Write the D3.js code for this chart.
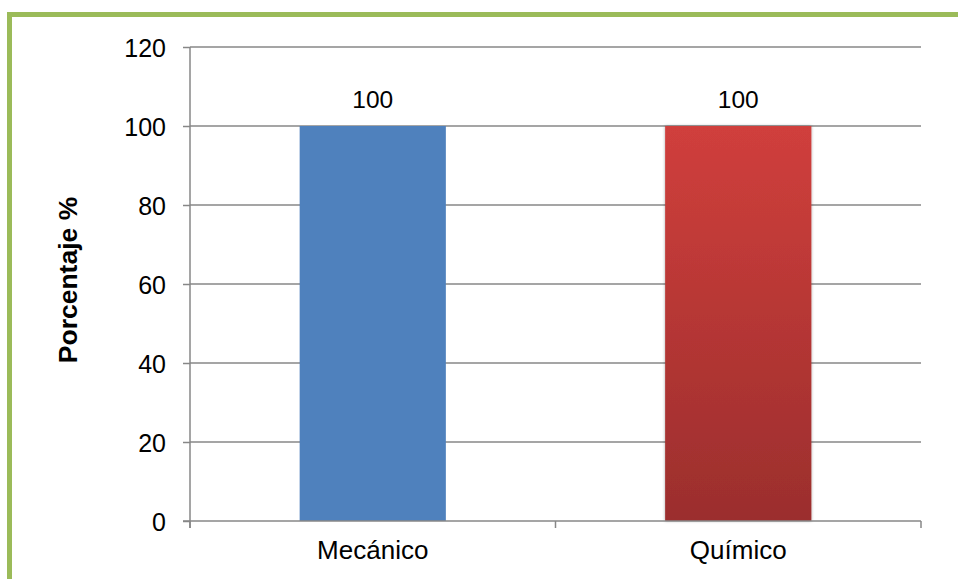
<!DOCTYPE html>
<html>
<head>
<meta charset="utf-8">
<script src="https://cdn.jsdelivr.net/npm/d3@7"></script>
<style>
  html, body { margin: 0; padding: 0; background: #fff; }
  svg { display: block; font-family: "Liberation Sans", Arial, sans-serif; }
</style>
</head>
<body>
<svg id="chart" width="958" height="579"></svg>
<script>
// Porcentaje por tipo de tratamiento
const categories = ["Mecánico", "Químico"];
const values = [100, 100];
const yTicks = [0, 20, 40, 60, 80, 100, 120];
const yTitle = "Porcentaje %";

const svg = d3.select("#chart");
const W = 958, H = 579;
const plot = { left: 190, right: 921, top: 47, bottom: 521 };
const FONT = "Liberation Sans, Arial, sans-serif";

// Outer frame (green)
svg.append("rect")
  .attr("x", 9.5).attr("y", 14.5)
  .attr("width", W + 20).attr("height", H + 20)
  .attr("fill", "#fff")
  .attr("stroke", "#9bbb59").attr("stroke-width", 5);

const defs = svg.append("defs");
const grad = defs.append("linearGradient")
  .attr("id", "redGrad").attr("x1", 0).attr("y1", 0).attr("x2", 0).attr("y2", 1);
grad.append("stop").attr("offset", "0%").attr("stop-color", "#d03f3c");
grad.append("stop").attr("offset", "100%").attr("stop-color", "#9b2e2d");
const shadow = defs.append("filter").attr("id", "shadow")
  .attr("x", "-10%").attr("y", "-10%").attr("width", "120%").attr("height", "120%");
shadow.append("feDropShadow").attr("dx", 0).attr("dy", 0).attr("stdDeviation", 1.5)
  .attr("flood-color", "#000").attr("flood-opacity", 0.35);

const x = d3.scaleBand().domain(categories)
  .range([plot.left, plot.right]).paddingInner(0.6).paddingOuter(0.3);
const xOuter = d3.scaleBand().domain(categories).range([plot.left, plot.right]);
const y = d3.scaleLinear().domain([0, 120]).range([plot.bottom, plot.top]);

// Gridlines
svg.append("g").selectAll("line").data(yTicks.filter(t => t > 0)).join("line")
  .attr("x1", plot.left).attr("x2", plot.right)
  .attr("y1", d => y(d)).attr("y2", d => y(d))
  .attr("stroke", "#878787").attr("stroke-width", 1.5);

// Bars
const fills = ["#4f81bd", "url(#redGrad)"];
svg.append("g").selectAll("rect").data(values).join("rect")
  .attr("x", (d, i) => x(categories[i]))
  .attr("width", x.bandwidth())
  .attr("y", d => y(d))
  .attr("height", d => y(0) - y(d))
  .attr("fill", (d, i) => fills[i])
  .attr("filter", (d, i) => i === 1 ? "url(#shadow)" : null);

// Value labels
svg.append("g").selectAll("text").data(values).join("text")
  .attr("x", (d, i) => x(categories[i]) + x.bandwidth() / 2)
  .attr("y", d => y(d) - 18)
  .attr("text-anchor", "middle")
  .attr("font-family", FONT)
  .attr("font-size", 24.5).attr("fill", "#000")
  .text(d => d);

// Y axis
const yAxis = d3.axisLeft(y).tickValues(yTicks).tickSize(7).tickPadding(17);
const gy = svg.append("g").attr("transform", `translate(${plot.left},0)`).call(yAxis);
gy.attr("font-size", null).attr("font-family", null);
gy.select(".domain").attr("stroke", "#878787").attr("stroke-width", 1.5).attr("d", `M0,${plot.top}V${plot.bottom + 7}`);
gy.selectAll(".tick line").attr("stroke", "#878787").attr("stroke-width", 1.5);
gy.selectAll(".tick text").attr("font-size", 25).attr("fill", "#000")
  .attr("font-family", FONT).attr("dy", "0.36em");

// X axis
const gx = svg.append("g").attr("transform", `translate(0,${plot.bottom})`);
gx.append("line").attr("x1", plot.left - 7).attr("x2", plot.right)
  .attr("stroke", "#878787").attr("stroke-width", 1.5);
const xTickPos = [plot.left, ...categories.map(c => xOuter(c) + xOuter.bandwidth())];
gx.selectAll(".xt").data(xTickPos).join("line").attr("class", "xt")
  .attr("x1", d => d).attr("x2", d => d).attr("y1", 0).attr("y2", 7)
  .attr("stroke", "#878787").attr("stroke-width", 1.5);
gx.selectAll("text").data(categories).join("text")
  .attr("x", d => xOuter(d) + xOuter.bandwidth() / 2)
  .attr("y", 38)
  .attr("text-anchor", "middle")
  .attr("font-family", FONT)
  .attr("font-size", 26).attr("fill", "#000")
  .text(d => d);

// Y title
svg.append("text")
  .attr("transform", `translate(77,${280}) rotate(-90)`)
  .attr("text-anchor", "middle")
  .attr("font-family", FONT)
  .attr("font-size", 26.5).attr("font-weight", "bold").attr("fill", "#000")
  .text(yTitle);
</script>
</body>
</html>
